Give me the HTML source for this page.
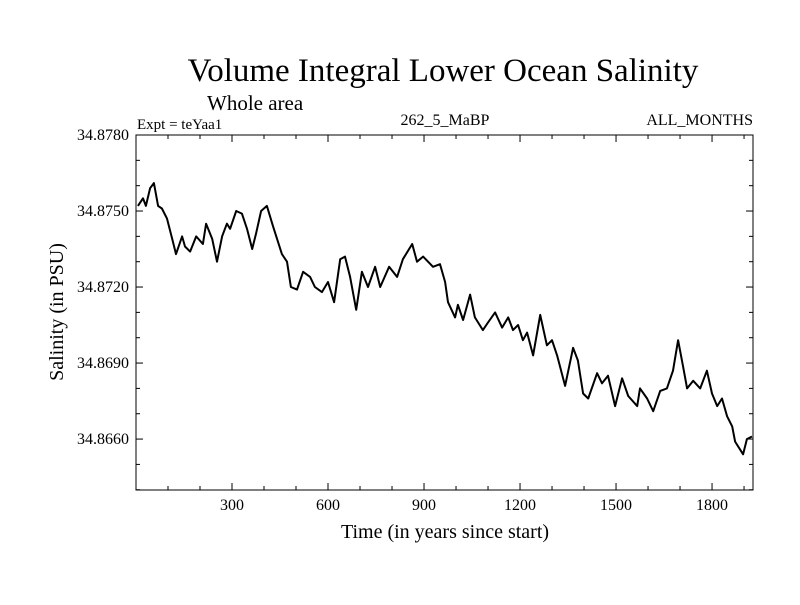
<!DOCTYPE html>
<html><head><meta charset="utf-8"><style>
body{margin:0;background:#fff}
svg text{font-family:"Liberation Serif",serif;fill:#000}
</style></head><body>
<svg id="chart" width="800" height="600" viewBox="0 0 800 600" xmlns="http://www.w3.org/2000/svg">
<rect width="800" height="600" fill="#fff"/>
<text x="443" y="81" font-size="33" text-anchor="middle">Volume Integral Lower Ocean Salinity</text>
<text x="207" y="110" font-size="21">Whole area</text>
<text x="137" y="129" font-size="15">Expt = teYaa1</text>
<text x="445" y="125" font-size="16" text-anchor="middle">262_5_MaBP</text>
<text x="753" y="125" font-size="16" text-anchor="end">ALL_MONTHS</text>
<g id="axes"></g>
<g id="series"></g>
<text x="445" y="538" font-size="20" text-anchor="middle">Time (in years since start)</text>
<text transform="translate(63,312) rotate(-90)" font-size="20" text-anchor="middle">Salinity (in PSU)</text>
</svg>
<script>
const years=[6,22,31,44,56,69,81,97,113,125,144,153,169,188,209,219,238,253,269,284,294,313,331,347,363,375,391,409,428,456,472,484,503,522,544,559,581,600,619,638,653,669,688,706,725,747,763,791,816,834,863,878,897,928,950,966,975,997,1006,1022,1044,1059,1084,1100,1122,1144,1163,1178,1194,1209,1222,1241,1263,1284,1300,1316,1341,1366,1381,1397,1413,1441,1456,1475,1497,1519,1538,1566,1575,1597,1616,1638,1659,1678,1694,1709,1722,1741,1763,1784,1800,1816,1831,1847,1863,1872,1897,1909,1925];
const salinity=[34.8752,34.8755,34.8752,34.8759,34.8761,34.8752,34.8751,34.8747,34.8739,34.8733,34.8740,34.8736,34.8734,34.8740,34.8737,34.8745,34.8739,34.8730,34.8740,34.8745,34.8743,34.8750,34.8749,34.8743,34.8735,34.8741,34.8750,34.8752,34.8744,34.8733,34.8730,34.8720,34.8719,34.8726,34.8724,34.8720,34.8718,34.8722,34.8714,34.8731,34.8732,34.8724,34.8711,34.8726,34.8720,34.8728,34.8720,34.8728,34.8724,34.8731,34.8737,34.8730,34.8732,34.8728,34.8729,34.8722,34.8714,34.8708,34.8713,34.8707,34.8717,34.8708,34.8703,34.8706,34.8710,34.8704,34.8708,34.8703,34.8705,34.8699,34.8702,34.8693,34.8709,34.8697,34.8699,34.8693,34.8681,34.8696,34.8691,34.8678,34.8676,34.8686,34.8682,34.8685,34.8673,34.8684,34.8677,34.8673,34.8680,34.8676,34.8671,34.8679,34.8680,34.8687,34.8699,34.8689,34.8680,34.8683,34.8680,34.8687,34.8678,34.8673,34.8676,34.8669,34.8665,34.8659,34.8654,34.8660,34.8661];
const xTicks=[300,600,900,1200,1500,1800];
const xTickLabels=["300","600","900","1200","1500","1800"];
const yTicks=[34.866,34.869,34.872,34.875,34.878];
const yTickLabels=["34.8660","34.8690","34.8720","34.8750","34.8780"];
const X0=136,X1=753,Y0=135,Y1=490,xMin=0,xMax=1928,yMin=34.86399,yMax=34.878;
const NS="http://www.w3.org/2000/svg";
const sx=v=>X0+(v-xMin)/(xMax-xMin)*(X1-X0);
const sy=v=>Y1-(v-yMin)/(yMax-yMin)*(Y1-Y0);
const axes=document.getElementById('axes'),series=document.getElementById('series');
function mk(t,a,p){const e=document.createElementNS(NS,t);for(const k in a)e.setAttribute(k,a[k]);p.appendChild(e);return e;}
const frame=mk('rect',{x:X0,y:Y0,width:X1-X0,height:Y1-Y0,fill:'none',stroke:'#000','stroke-width':1},axes);


for(let v=100;v<xMax;v+=100){const big=v%300===0,L=big?7:4,x=sx(v);
 mk('line',{x1:x,x2:x,y1:Y1,y2:Y1-L,stroke:'#000'},axes);mk('line',{x1:x,x2:x,y1:Y0,y2:Y0+L,stroke:'#000'},axes);}
for(let v=34.864;v<=34.8781;v+=0.001){const big=Math.abs(Math.round(v*1000)%3)===0,L=big?7:4,y=sy(v);
 mk('line',{x1:X0,x2:X0+L,y1:y,y2:y,stroke:'#000'},axes);mk('line',{x1:X1,x2:X1-L,y1:y,y2:y,stroke:'#000'},axes);}
xTicks.forEach((v,i)=>{const t=mk('text',{x:sx(v),y:Y1+20,'font-size':16,'text-anchor':'middle'},axes);t.textContent=xTickLabels[i];
 
 });
yTicks.forEach((v,i)=>{const t=mk('text',{x:X0-7,y:sy(v)+5,'font-size':16,'text-anchor':'end'},axes);t.textContent=yTickLabels[i];
 
 });
const d=years.map((y,i)=>(i?'L':'M')+sx(y).toFixed(1)+','+sy(salinity[i]).toFixed(1)).join('');
const line=mk('path',{d:d,fill:'none',stroke:'#000','stroke-width':2,'stroke-linejoin':'round'},series);


</script>
</body></html>
